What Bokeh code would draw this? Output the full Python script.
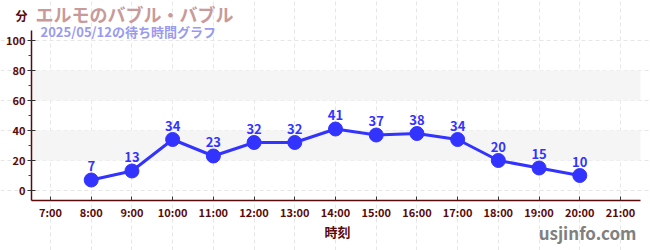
from bokeh.plotting import figure
from bokeh.models import (ColumnDataSource, Label, BoxAnnotation, FixedTicker,
                          Range1d)
from bokeh.core.properties import value
from bokeh.embed import file_html
from bokeh.resources import INLINE

title = "エルモのバブル・バブル"
subtitle = "2025/05/12の待ち時間グラフ"
unit_label = "分"
x_label = "時刻"
credit = "usjinfo.com"
hours = [8, 9, 10, 11, 12, 13, 14, 15, 16, 17, 18, 19, 20]
waits = [7, 13, 34, 23, 32, 32, 41, 37, 38, 34, 20, 15, 10]
tick_hours = list(range(7, 22))
tick_labels = [f"{h}:00" for h in tick_hours]
y_ticks = [0, 20, 40, 60, 80, 100]
y_minor = [10, 30, 50, 70, 90]

FONT = "Noto Sans CJK JP"
AX = "#5a0a0a"
W, H = 650, 250

# pixel layout of the plotting area (canvas px from top-left)
PX_HR, X7 = 40.714, 50          # px per hour, px of 7:00
PX_U, Y0 = 1.5, 190             # px per minute, px of 0
AREA_L, AREA_R, AREA_T, AREA_B = 31, 640, 30, 200


def xv(px):
    return 7 + (px - X7) / PX_HR


def yv(py):
    return (Y0 - py) / PX_U


p = figure(width=W, height=H, output_backend="svg", toolbar_location=None,
           x_range=Range1d(xv(0), xv(W)), y_range=Range1d(yv(H), yv(0)),
           min_border=0, min_border_left=0, min_border_right=0,
           min_border_top=0, min_border_bottom=0)
p.outline_line_color = None

for lo, hi in [(20, 40), (60, 80)]:
    p.add_layout(BoxAnnotation(bottom=lo, top=hi, left=xv(AREA_L), right=xv(AREA_R),
                               fill_color="#f5f5f5", fill_alpha=1.0,
                               line_color=None, level="underlay"))

src = ColumnDataSource(dict(x=hours, y=waits, t=[str(v) for v in waits]))
p.line("x", "y", source=src, line_color="#3333ff", line_width=3)
p.scatter("x", "y", source=src, size=14, fill_color="#3333ff", line_color="#3333ff")
p.text("x", "y", text="t", source=src, y_offset=-9, text_align="center",
       text_baseline="bottom", text_color="#3333ff", text_font=value(FONT),
       text_font_size="13px", text_font_style="bold")

xa = p.xaxis[0]
xa.fixed_location = yv(AREA_B)
xa.bounds = (xv(AREA_L), xv(AREA_R))
xa.ticker = FixedTicker(ticks=tick_hours)
xa.major_label_overrides = {h: l for h, l in zip(tick_hours, tick_labels)}
xa.axis_line_color = AX
xa.axis_line_width = 1.5
xa.major_tick_in = 4
xa.major_tick_out = 0
xa.major_tick_line_color = "#333333"
xa.minor_tick_line_color = None
xa.major_label_text_color = AX
xa.major_label_text_font = FONT
xa.major_label_text_font_size = "11px"
xa.major_label_text_font_style = "bold"
xa.major_label_standoff = 3

ya = p.yaxis[0]
ya.fixed_location = xv(AREA_L)
ya.bounds = (yv(AREA_B), yv(AREA_T))
ya.ticker = FixedTicker(ticks=y_ticks, minor_ticks=y_minor)
ya.axis_line_color = AX
ya.axis_line_width = 1.5
ya.major_tick_in = 4
ya.major_tick_out = 4
ya.major_tick_line_color = "#333333"
ya.minor_tick_in = 0
ya.minor_tick_out = 3
ya.minor_tick_line_color = "#e00000"
ya.major_label_text_color = AX
ya.major_label_text_font = FONT
ya.major_label_text_font_size = "11px"
ya.major_label_text_font_style = "bold"
ya.major_label_standoff = 2

p.xgrid.ticker = FixedTicker(ticks=tick_hours)
p.xgrid.bounds = (yv(AREA_B), yv(AREA_T))
p.ygrid.ticker = FixedTicker(ticks=y_ticks)
p.ygrid.bounds = (xv(AREA_L), xv(AREA_R))
for g in (p.xgrid[0], p.ygrid[0]):
    g.grid_line_color = "#e6e6e6"
    g.grid_line_dash = "4 3"
    g.grid_line_width = 1


def lab(cx, cy, text, size, color, align="left"):
    # cx, cy: canvas px from top-left; the frame fills the canvas
    p.add_layout(Label(x=cx, y=H - cy, x_units="screen", y_units="screen",
                       text=text, text_font=FONT, text_font_size=size,
                       text_color=color, text_font_style="bold",
                       text_align=align, text_baseline="middle"))


lab(35, 13.5, title, "18px", "#c99a9a")
lab(40, 30.5, subtitle, "13px", "#9a9aee")
lab(27, 15, unit_label, "12px", AX, align="right")
lab(337, 231, x_label, "13px", AX, align="center")
lab(636, 232, credit, "17px", "#808080", align="right")

open("out.html", "w").write(file_html(p, INLINE))
